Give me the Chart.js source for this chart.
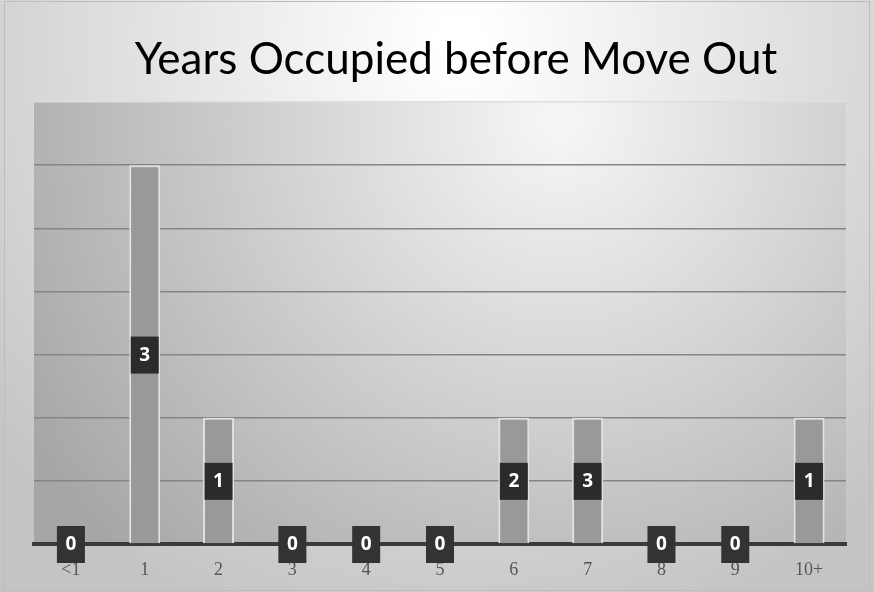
<!DOCTYPE html>
<html>
<head>
<meta charset="utf-8">
<script src="https://cdn.jsdelivr.net/npm/chart.js@4"></script>
<style>
  html, body { margin: 0; padding: 0; background: #d8d8d8; }
  #wrap { width: 874px; height: 592px; position: relative; }
</style>
</head>
<body>
<div id="wrap"><canvas id="chart" width="874" height="592"></canvas></div>
<script>
const categories = ['<1', '1', '2', '3', '4', '5', '6', '7', '8', '9', '10+'];
const barHeights = [0, 6, 2, 0, 0, 0, 2, 2, 0, 0, 2];
const barLabels = ['0', '3', '1', '0', '0', '0', '2', '3', '0', '0', '1'];
const titleText = 'Years Occupied before Move Out';
const yMax = 7;

const bgPlugin = {
  id: 'bg',
  beforeDraw(chart) {
    const c = chart.ctx;
    const W = chart.width, H = chart.height;
    c.save();
    const g = c.createRadialGradient(460, 40, 20, 460, 40, 620);
    g.addColorStop(0, '#ffffff');
    g.addColorStop(1, '#c4c4c4');
    c.fillStyle = g;
    c.fillRect(0, 0, W, H);
    c.strokeStyle = '#bdbdbd';
    c.lineWidth = 1;
    c.strokeRect(4.5, 1.5, W - 9, H - 3);

    const a = chart.chartArea;
    const g2 = c.createRadialGradient(560, 120, 20, 560, 120, 620);
    g2.addColorStop(0, '#f4f4f4');
    g2.addColorStop(1, '#a6a6a6');
    c.fillStyle = g2;
    c.fillRect(a.left, a.top, a.right - a.left, a.bottom - a.top);
    c.restore();
  },
  afterDraw(chart) {
    // title sits a bit right of the canvas centre, like the original
    const c = chart.ctx;
    c.save();
    c.font = '44px Lato, "Open Sans", sans-serif';
    c.fillStyle = '#000000';
    c.textAlign = 'center';
    c.textBaseline = 'alphabetic';
    c.fillText(titleText, 456, 74);
    c.restore();
  }
};

const labelPlugin = {
  id: 'boxLabels',
  afterDatasetsDraw(chart) {
    const c = chart.ctx;
    const meta = chart.getDatasetMeta(0);
    const ys = chart.scales.y;
    c.save();
    c.font = 'bold 19px "Open Sans", sans-serif';
    c.textAlign = 'center';
    c.textBaseline = 'middle';
    meta.data.forEach((bar, i) => {
      const y0 = ys.getPixelForValue(0);
      const y1 = ys.getPixelForValue(barHeights[i]);
      const cy = (y0 + y1) / 2;
      c.fillStyle = barHeights[i] === 0 ? '#333333' : '#2b2b2b';
      c.fillRect(bar.x - 14, cy - 18, 28, 37);
      c.fillStyle = '#ffffff';
      c.fillText(barLabels[i], bar.x, cy + 1);
    });
    c.restore();
  }
};

new Chart(document.getElementById('chart'), {
  type: 'bar',
  data: {
    labels: categories,
    datasets: [{
      data: barHeights,
      backgroundColor: '#999999',
      borderColor: '#e2e2e2',
      borderWidth: 2,
      categoryPercentage: 1,
      barPercentage: 0.42
    }]
  },
  options: {
    responsive: false,
    animation: false,
    layout: { padding: { left: 34, right: 28, top: 102, bottom: 0 } },
    plugins: {
      legend: { display: false },
      tooltip: { enabled: false },
      title: { display: false }
    },
    scales: {
      x: {
        grid: { display: false, drawTicks: false },
        border: { display: true, color: '#3a3a3a', width: 4 },
        ticks: { color: '#555555', font: { family: '"Liberation Serif", serif', size: 18 }, padding: 15 },
        afterFit(s) { s.height = 48; }
      },
      y: {
        min: 0,
        max: yMax,
        ticks: { display: false, stepSize: 1 },
        grid: {
          drawTicks: false,
          lineWidth: 1.5,
          color: (ctx) => (ctx.tick && ctx.tick.value === yMax ? '#dedede' : '#858585')
        },
        border: { display: false },
        afterFit(s) { s.width = 0; }
      }
    }
  },
  plugins: [bgPlugin, labelPlugin]
});
</script>
</body>
</html>
